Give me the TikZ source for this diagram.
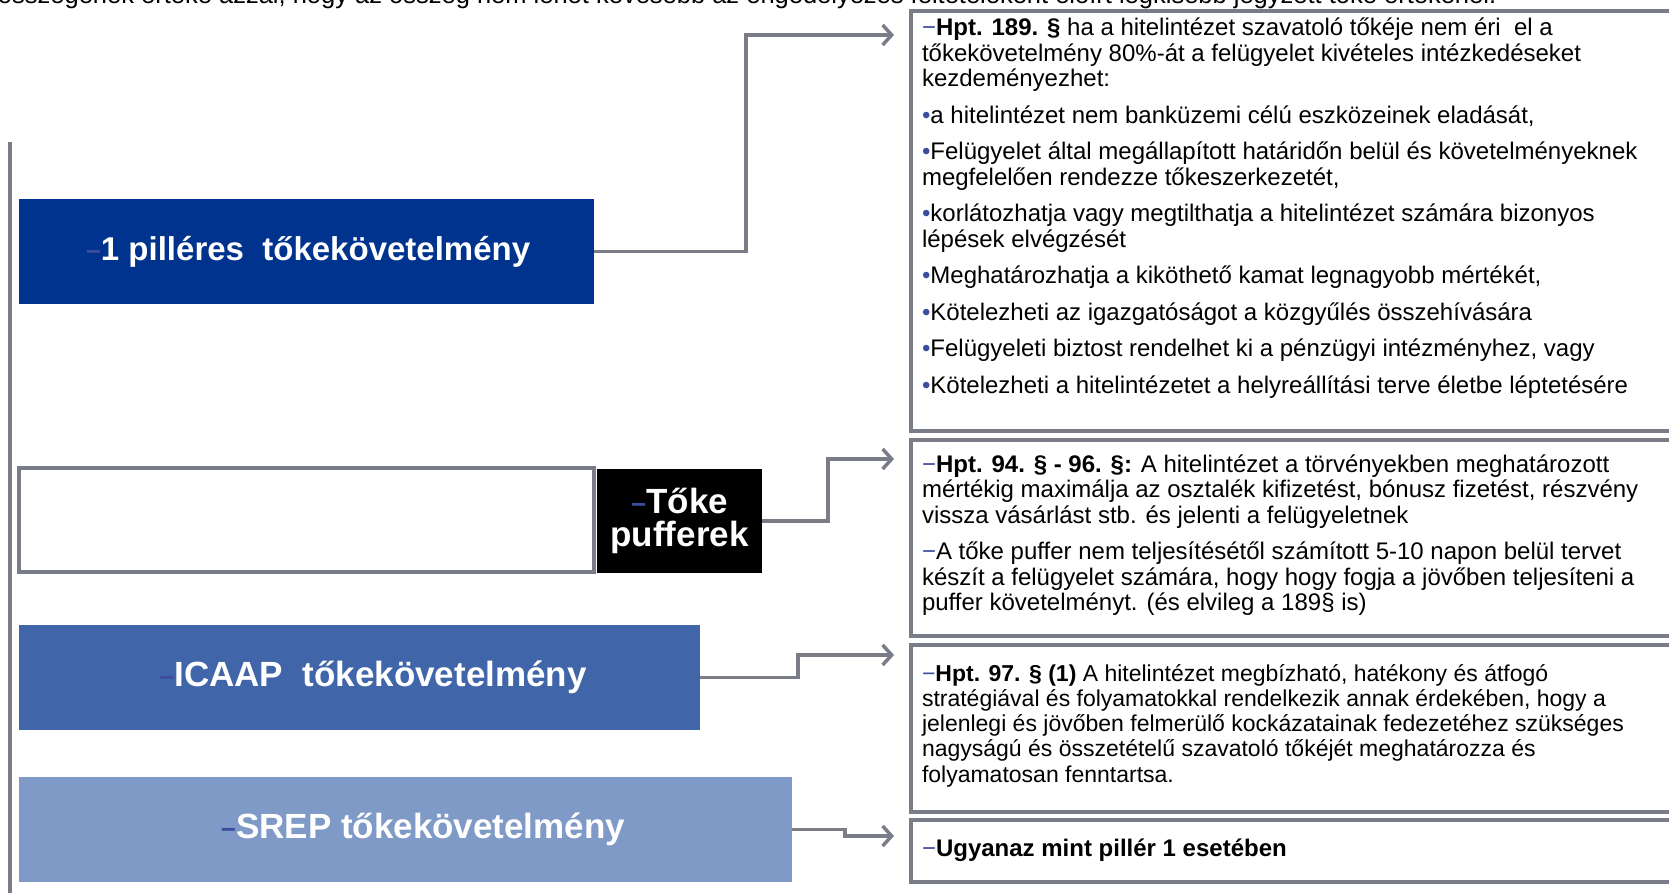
\documentclass[tikz,border=0pt]{standalone}
\usepackage{fontspec}
\setmainfont{Liberation Sans}
\usetikzlibrary{arrows.meta}
\definecolor{pillarA}{HTML}{00338D}
\definecolor{pillarC}{HTML}{4065A8}
\definecolor{pillarD}{HTML}{7F9AC6}
\definecolor{lineGray}{HTML}{7A7C87}
\definecolor{bulBlue}{HTML}{3D4C9E}
\newcommand{\mydash}{{\color{bulBlue}−}}
\newcommand{\mybul}{{\color{bulBlue}•}}
\newcommand{\lbldash}{{\color{bulBlue}\fontsize{26}{26}\selectfont −}}
\begin{document}
\begin{tikzpicture}[x=1pt,y=-1pt,
  pill/.style={draw=none, inner sep=0pt, outer sep=0pt, anchor=north west},
  tbox/.style={draw=lineGray, line width=3.5pt, fill=white, inner sep=0pt, outer sep=0pt, anchor=north west},
  lbl/.style={text=white, font=\bfseries\fontsize{35}{33}\selectfont, align=center, inner sep=0pt},
  body/.style={inner sep=0pt, outer sep=0pt, anchor=base west, font=\fontsize{24}{25.5}\selectfont},
  conn/.style={draw=lineGray, line width=3.5pt, line join=miter, -{Straight Barb[length=9pt,width=20pt]}},
  trunk/.style={draw=lineGray, line width=3.5pt}]
\useasboundingbox (0,0) rectangle (1669,893);
\fill[white] (0,0) rectangle (1669,893);

% partly visible text at the top
\node[body, font=\fontsize{25.5}{27}\selectfont] (toptext) at (-2,4) {összegének értéke azzal, hogy az összeg nem lehet kevesebb az engedélyezés feltételeként előírt legkisebb jegyzett tőke értékénél.};

% trunk
\coordinate (trTop) at (10,142);
\coordinate (trBot) at (10,895);
\draw[trunk] (trTop) -- (trBot);

% left boxes
\node[pill, fill=pillarA, minimum width=575pt, minimum height=105pt] (p1) at (19,199) {};
\node[pill, draw=lineGray, line width=3.5pt, fill=white, minimum width=575pt, minimum height=104pt] (p2o) at (19,468) {};
\node[pill, fill=black, minimum width=165pt, minimum height=104pt] (p2) at (597,469) {};
\node[pill, fill=pillarC, minimum width=681pt, minimum height=105pt] (p3) at (19,625) {};
\node[pill, fill=pillarD, minimum width=773pt, minimum height=105pt] (p4) at (19,777) {};

\node[lbl, font=\bfseries\fontsize{33}{33}\selectfont] (l1) at ([xshift=1.5pt]p1.center) {\lbldash1 pilléres~ tőkekövetelmény};
\node[lbl] (l2) at (p2.center) {\lbldash Tőke\\pufferek};
\node[lbl] (l3) at ([xshift=13.5pt]p3.center) {\lbldash ICAAP~ tőkekövetelmény};
\node[lbl] (l4) at ([xshift=17.5pt]p4.center) {\lbldash SREP tőkekövetelmény};

% text boxes
\node[tbox, minimum width=780pt, minimum height=420pt] (t1) at (911,11) {};
\node[tbox, minimum width=780pt, minimum height=196pt] (t2) at (911,440) {};
\node[tbox, minimum width=780pt, minimum height=167pt] (t3) at (911,645) {};
\node[tbox, minimum width=780pt, minimum height=62pt] (t4) at (911,820) {};

\node[body] (c1) at (922,36) {\parbox[t]{900pt}{\setlength{\parindent}{0pt}\setlength{\parskip}{11pt}%
\leavevmode\mydash\textbf{Hpt. 189. §} ha a hitelintézet szavatoló tőkéje nem éri~ el a\\
tőkekövetelmény 80\%-át a felügyelet kivételes intézkedéseket\\
kezdeményezhet:\par
\mybul a hitelintézet nem banküzemi célú eszközeinek eladását,\par
\mybul Felügyelet által megállapított határidőn belül és követelményeknek\\
megfelelően rendezze tőkeszerkezetét,\par
\mybul korlátozhatja vagy megtilthatja a hitelintézet számára bizonyos\\
lépések elvégzését\par
\mybul Meghatározhatja a kiköthető kamat legnagyobb mértékét,\par
\mybul Kötelezheti az igazgatóságot a közgyűlés összehívására\par
\mybul Felügyeleti biztost rendelhet ki a pénzügyi intézményhez, vagy\par
\mybul Kötelezheti a hitelintézetet a helyreállítási terve életbe léptetésére}};

\node[body] (c2) at (922,472) {\parbox[t]{900pt}{\setlength{\parindent}{0pt}\setlength{\parskip}{11pt}%
\leavevmode\mydash\textbf{Hpt. 94. § - 96. §:} A hitelintézet a törvényekben meghatározott\\
mértékig maximálja az osztalék kifizetést, bónusz fizetést, részvény\\
vissza vásárlást stb. és jelenti a felügyeletnek\par
\mydash A tőke puffer nem teljesítésétől számított 5-10 napon belül tervet\\
készít a felügyelet számára, hogy hogy fogja a jövőben teljesíteni a\\
puffer követelményt. (és elvileg a 189§ is)}};

\node[body, font=\fontsize{23}{25.3}\selectfont] (c3) at (922,681) {\parbox[t]{900pt}{\setlength{\parindent}{0pt}%
\leavevmode\mydash\textbf{Hpt. 97. § (1)} A hitelintézet megbízható, hatékony és átfogó\\
stratégiával és folyamatokkal rendelkezik annak érdekében, hogy a\\
jelenlegi és jövőben felmerülő kockázatainak fedezetéhez szükséges\\
nagyságú és összetételű szavatoló tőkéjét meghatározza és\\
folyamatosan fenntartsa.}};

\node[body] (c4) at (922,856) {\mydash\textbf{Ugyanaz mint pillér 1 esetében}};

% connectors
\coordinate (a1) at (894,35);
\coordinate (a2) at (894,459);
\coordinate (a3) at (894,655);
\coordinate (a4) at (894,836);
\draw[conn] (p1.east) -| (746,35) -- (a1);
\draw[conn] (p2.east) -| (828,459) -- (a2);
\draw[conn] (p3.east) -| (798,655) -- (a3);
\draw[conn] (p4.east) -| (845,836) -- (a4);
\end{tikzpicture}
\end{document}
